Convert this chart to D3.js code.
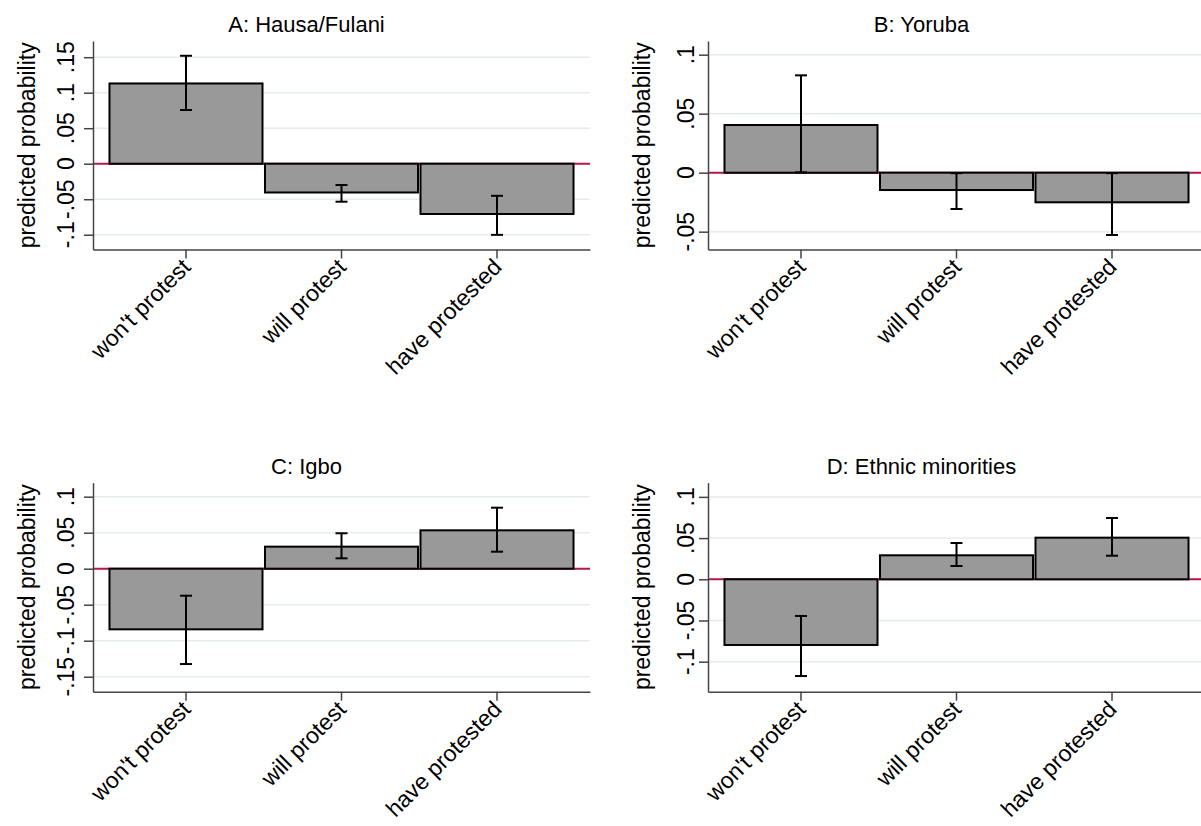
<!DOCTYPE html>
<html>
<head>
<meta charset="utf-8">
<script src="https://cdn.jsdelivr.net/npm/d3@7"></script>
<style>
  body { margin: 0; background: #fff; }
  text { font-family: "Liberation Sans", Arial, Helvetica, sans-serif; fill: #000; }
</style>
</head>
<body>
<svg id="chart" width="1201" height="826"></svg>
<script>
// categories on the x axis
var categories = ["won't protest", "will protest", "have protested"];

var panelTitles = ["A: Hausa/Fulani", "B: Yoruba", "C: Igbo", "D: Ethnic minorities"];

// predicted probabilities (point estimate, lower and upper CI)
var estA = [0.113, -0.0405, -0.0708];
var loA  = [0.0756, -0.0535, -0.1002];
var hiA  = [0.152, -0.030, -0.0452];

var estB = [0.0404, -0.0147, -0.0251];
var loB  = [0.0003, -0.0308, -0.0528];
var hiB  = [0.0825, -0.0004, -0.0004];

var estC = [-0.0842, 0.0306, 0.0533];
var loC  = [-0.1324, 0.0144, 0.0236];
var hiC  = [-0.0375, 0.0492, 0.0847];

var estD = [-0.0797, 0.0291, 0.0505];
var loD  = [-0.1174, 0.0161, 0.0286];
var hiD  = [-0.0445, 0.044, 0.0744];

// y tick values and axis ranges
var ticksA = [-0.1, -0.05, 0, 0.05, 0.1, 0.15];
var ticksB = [-0.05, 0, 0.05, 0.1];
var ticksC = [-0.15, -0.1, -0.05, 0, 0.05, 0.1];
var ticksD = [-0.1, -0.05, 0, 0.05, 0.1];

var rangeA = [-0.1208, 0.1728];
var rangeB = [-0.0651, 0.1116];
var rangeC = [-0.1708, 0.1194];
var rangeD = [-0.1364, 0.1172];

var svg = d3.select("#chart");
svg.append("rect").attr("width", 1201).attr("height", 826).attr("fill", "#fff");

// stata style numbers: .05, -.1, 0
function fmt(v) {
  if (Math.abs(v) < 1e-9) return "0";
  return String(+v.toFixed(3)).replace("0.", ".");
}

var fontSize = 23;

function panel(opts) {
  var x0 = opts.x0, x1 = opts.x1, y0 = opts.y0, y1 = opts.y1;
  var g = svg.append("g");

  var x = d3.scaleBand()
    .domain(categories)
    .range([x0, x1])
    .paddingInner(0.016)
    .paddingOuter(0.106);

  var y = d3.scaleLinear()
    .domain(opts.range)
    .range([y1, y0]);

  // gridlines
  g.selectAll(".grid")
    .data(opts.ticks)
    .enter().append("line")
    .attr("x1", x0).attr("x2", x1)
    .attr("y1", function(d) { return y(d); })
    .attr("y2", function(d) { return y(d); })
    .attr("stroke", "#e6ebee")
    .attr("stroke-width", 1.5);

  // zero line
  g.append("line")
    .attr("x1", x0).attr("x2", x1)
    .attr("y1", y(0)).attr("y2", y(0))
    .attr("stroke", "#bb1744")
    .attr("stroke-width", 2);

  var rows = categories.map(function(c, i) {
    return { cat: c, est: opts.est[i], lo: opts.lo[i], hi: opts.hi[i] };
  });

  // bars
  g.selectAll(".bar")
    .data(rows)
    .enter().append("rect")
    .attr("x", function(d) { return x(d.cat); })
    .attr("width", x.bandwidth())
    .attr("y", function(d) { return y(Math.max(0, d.est)); })
    .attr("height", function(d) { return Math.abs(y(d.est) - y(0)); })
    .attr("fill", "#999999")
    .attr("stroke", "#000")
    .attr("stroke-width", 2);

  // error bars
  var eb = g.selectAll(".eb")
    .data(rows)
    .enter().append("g")
    .attr("transform", function(d) { return "translate(" + (x(d.cat) + x.bandwidth() / 2) + ",0)"; });
  eb.append("line")
    .attr("y1", function(d) { return y(d.lo); })
    .attr("y2", function(d) { return y(d.hi); })
    .attr("stroke", "#000").attr("stroke-width", 2);
  eb.append("line")
    .attr("x1", -6).attr("x2", 6)
    .attr("y1", function(d) { return y(d.lo); })
    .attr("y2", function(d) { return y(d.lo); })
    .attr("stroke", "#000").attr("stroke-width", 2);
  eb.append("line")
    .attr("x1", -6).attr("x2", 6)
    .attr("y1", function(d) { return y(d.hi); })
    .attr("y2", function(d) { return y(d.hi); })
    .attr("stroke", "#000").attr("stroke-width", 2);

  // y axis
  var yAxis = d3.axisLeft(y)
    .tickValues(opts.ticks)
    .tickSize(9)
    .tickSizeOuter(0)
    .tickFormat(function() { return ""; });
  var ya = g.append("g")
    .attr("transform", "translate(" + x0 + ",0)")
    .call(yAxis);
  ya.select(".domain").attr("stroke", "#444").attr("stroke-width", 1.5);
  ya.selectAll(".tick line").attr("stroke", "#444").attr("stroke-width", 1.5);

  // rotated y tick labels
  g.selectAll(".ylab")
    .data(opts.ticks)
    .enter().append("text")
    .attr("transform", function(d) { return "translate(" + (x0 - opts.labGap) + "," + y(d) + ") rotate(-90)"; })
    .attr("text-anchor", "middle")
    .attr("font-size", fontSize)
    .text(fmt);

  // x axis
  var xAxis = d3.axisBottom(x)
    .tickSize(9)
    .tickSizeOuter(0)
    .tickFormat(function() { return ""; });
  var xa = g.append("g")
    .attr("transform", "translate(0," + y1 + ")")
    .call(xAxis);
  xa.select(".domain").attr("stroke", "#444").attr("stroke-width", 1.5);
  xa.selectAll(".tick line").attr("stroke", "#444").attr("stroke-width", 1.5);

  g.selectAll(".xlab")
    .data(categories)
    .enter().append("text")
    .attr("transform", function(d) {
      return "translate(" + (x(d) + x.bandwidth() / 2 + 6) + "," + (y1 + 19) + ") rotate(-45)";
    })
    .attr("text-anchor", "end")
    .attr("font-size", fontSize)
    .text(function(d) { return d; });

  // y axis title
  g.append("text")
    .attr("transform", "translate(" + (x0 - 58) + "," + ((y0 + y1) / 2) + ") rotate(-90)")
    .attr("text-anchor", "middle")
    .attr("font-size", fontSize)
    .text("predicted probability");

  // panel title
  g.append("text")
    .attr("x", (x0 + x1) / 2 - 35)
    .attr("y", y0 - 9)
    .attr("text-anchor", "middle")
    .attr("font-size", 22)
    .text(opts.title);
}

panel({ title: panelTitles[0], est: estA, lo: loA, hi: hiA, ticks: ticksA, range: rangeA,
        x0: 93, x1: 590, y0: 41, y1: 249.5, labGap: 19 });
panel({ title: panelTitles[1], est: estB, lo: loB, hi: hiB, ticks: ticksB, range: rangeB,
        x0: 708, x1: 1205, y0: 41, y1: 249.5, labGap: 14 });
panel({ title: panelTitles[2], est: estC, lo: loC, hi: hiC, ticks: ticksC, range: rangeC,
        x0: 93, x1: 590, y0: 482.7, y1: 691.7, labGap: 19 });
panel({ title: panelTitles[3], est: estD, lo: loD, hi: hiD, ticks: ticksD, range: rangeD,
        x0: 708, x1: 1205, y0: 482.7, y1: 691.7, labGap: 14 });
</script>
</body>
</html>
